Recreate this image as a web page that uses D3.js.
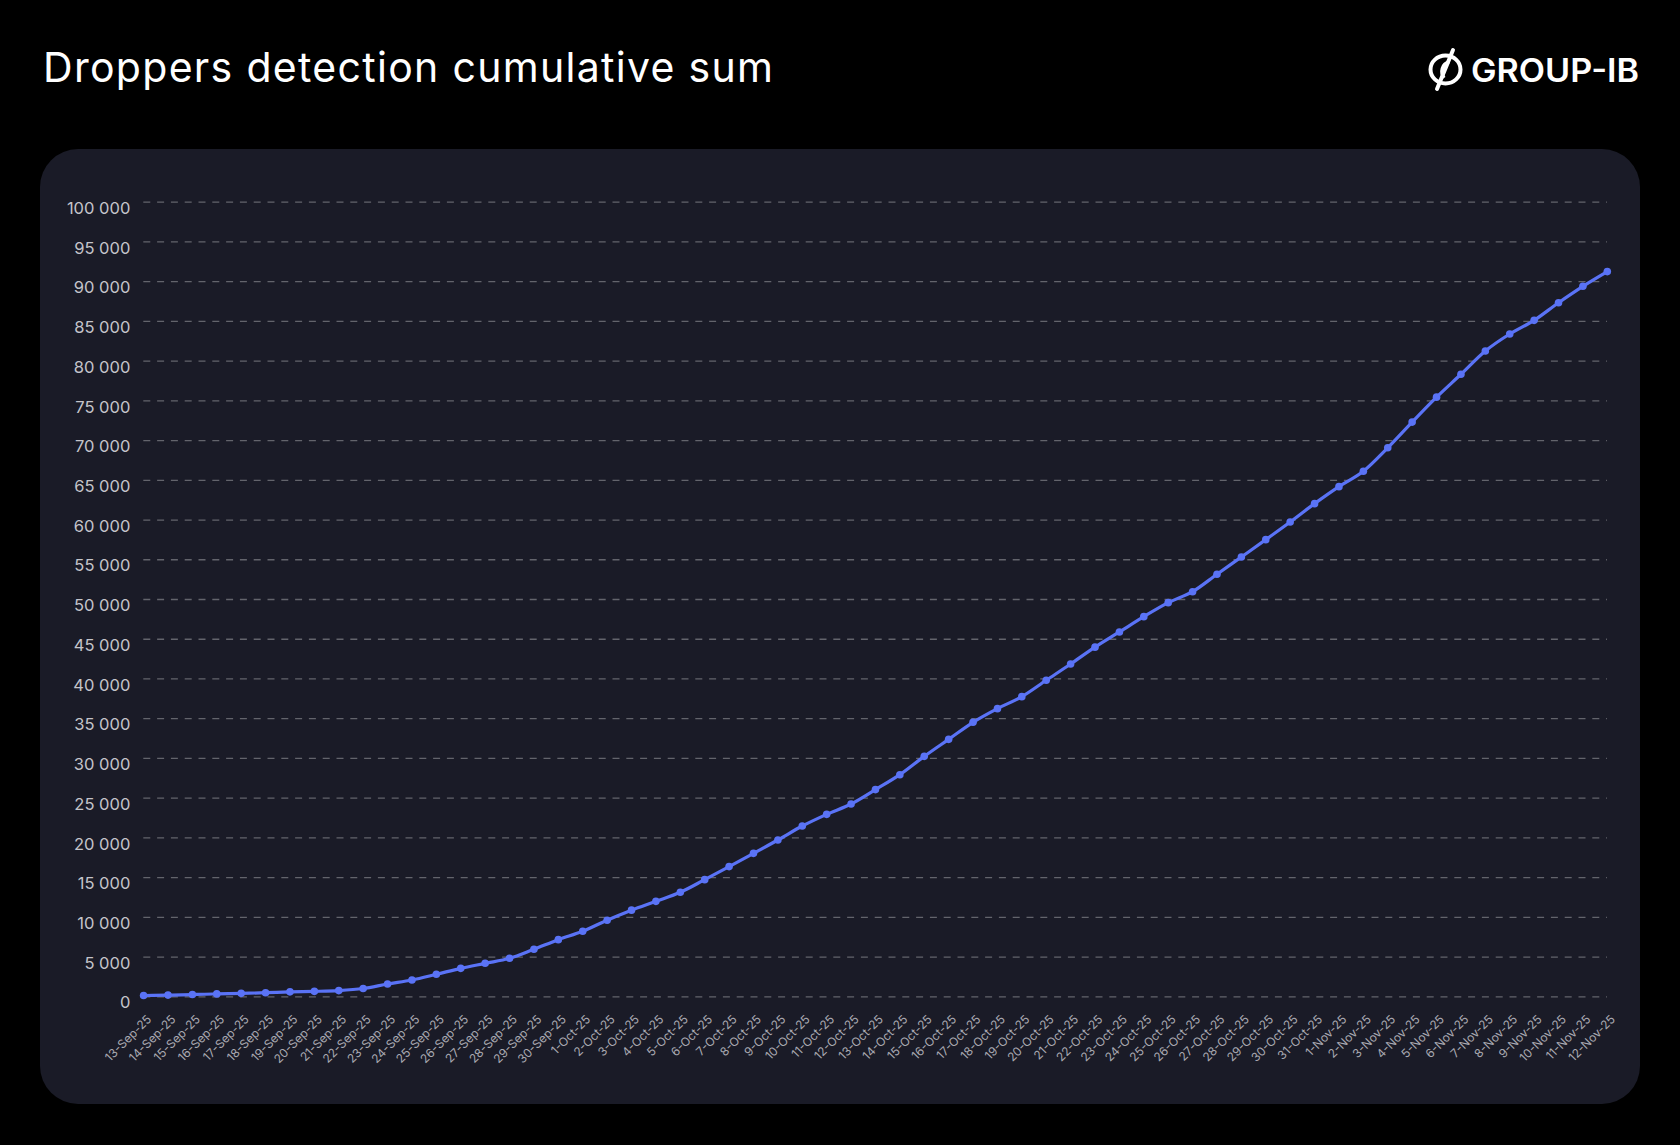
<!DOCTYPE html>
<html>
<head>
<meta charset="utf-8">
<script src="https://cdn.jsdelivr.net/npm/d3@7"></script>
<style>
  html, body { margin: 0; padding: 0; background: #000; }
  svg { display: block; }
</style>
</head>
<body>
<svg id="chart" width="1680" height="1145"></svg>
<script>
const title = "Droppers detection cumulative sum";
const brand = "GROUP-IB";

const dates = [
  "13-Sep-25","14-Sep-25","15-Sep-25","16-Sep-25","17-Sep-25","18-Sep-25","19-Sep-25","20-Sep-25","21-Sep-25","22-Sep-25",
  "23-Sep-25","24-Sep-25","25-Sep-25","26-Sep-25","27-Sep-25","28-Sep-25","29-Sep-25","30-Sep-25",
  "1-Oct-25","2-Oct-25","3-Oct-25","4-Oct-25","5-Oct-25","6-Oct-25","7-Oct-25","8-Oct-25","9-Oct-25","10-Oct-25",
  "11-Oct-25","12-Oct-25","13-Oct-25","14-Oct-25","15-Oct-25","16-Oct-25","17-Oct-25","18-Oct-25","19-Oct-25","20-Oct-25",
  "21-Oct-25","22-Oct-25","23-Oct-25","24-Oct-25","25-Oct-25","26-Oct-25","27-Oct-25","28-Oct-25","29-Oct-25","30-Oct-25","31-Oct-25",
  "1-Nov-25","2-Nov-25","3-Nov-25","4-Nov-25","5-Nov-25","6-Nov-25","7-Nov-25","8-Nov-25","9-Nov-25","10-Nov-25","11-Nov-25","12-Nov-25"
];

const cumulative = [
  100, 150, 220, 300, 370, 450, 560, 620, 720, 980,
  1550, 2050, 2770, 3520, 4150, 4780, 5920, 7130,
  8180, 9580, 10840, 11950, 13090, 14680, 16320, 17990, 19670, 21430,
  22900, 24200, 26010, 27890, 30200, 32340, 34480, 36200, 37710, 39770,
  41820, 43940, 45850, 47780, 49540, 50920, 53110, 55290, 57470, 59690, 62000,
  64140, 66070, 69030, 72260, 75400, 78280, 81210, 83350, 85070, 87290, 89350, 91200
];

const yTicks = [0,5000,10000,15000,20000,25000,30000,35000,40000,45000,50000,55000,60000,65000,70000,75000,80000,85000,90000,95000,100000];

const data = dates.map((d, i) => ({ date: d, value: cumulative[i] }));

const svg = d3.select("#chart");
const FONT = "Inter, 'Noto Sans', sans-serif";

// panel
svg.append("rect")
  .attr("x", 40).attr("y", 149)
  .attr("width", 1600).attr("height", 955)
  .attr("rx", 38).attr("ry", 38)
  .attr("fill", "#1a1b27");

// title
const t = svg.append("text")
  .attr("x", 43).attr("y", 82)
  .attr("fill", "#ffffff")
  .attr("font-family", FONT)
  .attr("font-size", 41)
  .attr("font-weight", 400)
  .text(title);
const tl = t.node().getComputedTextLength();
if (Math.abs(tl - 730) > 8) t.attr("textLength", 730).attr("lengthAdjust", "spacing");

// logo
const logo = svg.append("g");
logo.append("ellipse")
  .attr("cx", 1445.5).attr("cy", 69.5)
  .attr("rx", 15).attr("ry", 14)
  .attr("fill", "none").attr("stroke", "#fff").attr("stroke-width", 4);
logo.append("path")
  .attr("d", "M1437,89 L1453,50")
  .attr("stroke", "#fff").attr("stroke-width", 4).attr("stroke-linecap", "round");
logo.append("path")
  .attr("d", "M1444,78 C1440,72 1442,64 1449,62")
  .attr("fill", "none").attr("stroke", "#fff").attr("stroke-width", 3.5);
logo.append("text")
  .attr("x", 1471).attr("y", 81.5)
  .attr("fill", "#fff")
  .attr("font-family", FONT)
  .attr("font-size", 32)
  .attr("font-weight", 600)
  .attr("textLength", 168)
  .attr("lengthAdjust", "spacingAndGlyphs")
  .text(brand);

// scales
const x = d3.scalePoint().domain(dates).range([143.6, 1607.3]);
const y = d3.scaleLinear().domain([0, 100000]).range([996.3, 201.7]);

const fmt = d3.formatLocale({ decimal: ".", thousands: " ", grouping: [3], currency: ["", ""] }).format(",d");

// grid lines
const yAxis = d3.axisLeft(y).tickValues(yTicks).tickFormat(fmt)
  .tickSize(-(1607 - 143.3)).tickPadding(13);
const gy = svg.append("g").attr("transform", "translate(143.3,0)").call(yAxis);
gy.select(".domain").remove();
gy.selectAll(".tick line")
  .attr("stroke", "#63646c")
  .attr("stroke-width", 1.3)
  .attr("stroke-dasharray", "7,6.8");
gy.selectAll(".tick text")
  .attr("fill", "#c4c4ca")
  .attr("font-family", FONT)
  .attr("font-size", 16.5)
  .attr("dy", "0.95em")
  .attr("y", -4);

// x axis labels
const xAxis = d3.axisBottom(x).tickSize(0).tickPadding(0);
const gx = svg.append("g").attr("transform", "translate(0,1010)").call(xAxis);
gx.select(".domain").remove();
gx.selectAll(".tick text")
  .attr("fill", "#a9a9b1")
  .attr("font-family", FONT)
  .attr("font-size", 12)
  .attr("text-anchor", "end")
  .attr("dy", 0)
  .attr("y", 0)
  .attr("transform", "translate(8,10) rotate(-45)");

// line
const line = d3.line()
  .x(d => x(d.date))
  .y(d => y(d.value))
  .curve(d3.curveMonotoneX);

svg.append("path")
  .datum(data)
  .attr("d", line)
  .attr("fill", "none")
  .attr("stroke", "#5a73f6")
  .attr("stroke-width", 3.2)
  .attr("stroke-linejoin", "round");

svg.append("g").selectAll("circle")
  .data(data)
  .join("circle")
  .attr("cx", d => x(d.date))
  .attr("cy", d => y(d.value))
  .attr("r", 3.8)
  .attr("fill", "#5a73f6");
</script>
</body>
</html>
